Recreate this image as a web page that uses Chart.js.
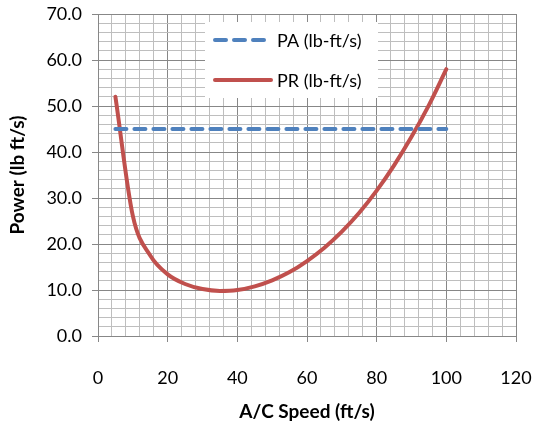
<!DOCTYPE html>
<html>
<head>
<meta charset="utf-8">
<script src="https://cdn.jsdelivr.net/npm/chart.js@4.4.1/dist/chart.umd.min.js"></script>
<style>
html,body{margin:0;padding:0;background:#fff;}
#wrap{width:534px;height:427px;position:relative;}
</style>
</head>
<body>
<div id="wrap"><canvas id="c" width="534" height="427"></canvas></div>
<script>
const speeds = [5,10,15,20,25,30,35,40,45,50,55,60,65,70,75,80,85,90,95,100];
const paValues = [45,45,45,45,45,45,45,45,45,45,45,45,45,45,45,45,45,45,45,45];
const prValues = [52.0,26.1,17.5,13.4,11.3,10.2,9.8,10.0,10.8,12.1,13.9,16.3,19.2,22.7,26.8,31.6,37.1,43.3,50.2,58.0];
const seriesNames = ['PA (lb-ft/s)','PR (lb-ft/s)'];
const xTitle = 'A/C Speed (ft/s)';
const yTitle = 'Power (lb ft/s)';

const FONT = 'Lato, "Open Sans", sans-serif';
const blue = '#4F81BD', red = '#C0504D';
const major = '#878787', minor = '#BEBEBE';

const legendPlugin = {
  id: 'boxLegend',
  afterDraw(chart) {
    const ctx = chart.ctx;
    ctx.save();
    ctx.fillStyle = '#fff';
    ctx.fillRect(205, 22, 173, 76);
    const items = [
      {y: 40, color: blue, dash: [11, 8], x2: 265},
      {y: 80, color: red, dash: [], x2: 271}
    ];
    items.forEach((it, i) => {
      ctx.beginPath();
      ctx.setLineDash(it.dash);
      ctx.lineCap = 'round';
      ctx.lineWidth = 4;
      ctx.strokeStyle = it.color;
      ctx.moveTo(215, it.y);
      ctx.lineTo(it.x2, it.y);
      ctx.stroke();
      ctx.setLineDash([]);
      ctx.fillStyle = '#000';
      ctx.font = '18px ' + FONT;
      ctx.textBaseline = 'middle';
      ctx.textAlign = 'left';
      ctx.fillText(seriesNames[i], 277, it.y + 1);
    });
    ctx.restore();
  }
};

new Chart(document.getElementById('c'), {
  type: 'scatter',
  data: {
    datasets: [
      {
        label: seriesNames[0],
        data: speeds.map((s, i) => ({x: s, y: paValues[i]})),
        showLine: true,
        borderColor: blue,
        borderWidth: 4,
        borderDash: [11, 8],
        borderCapStyle: 'round',
        pointRadius: 0,
        fill: false
      },
      {
        label: seriesNames[1],
        data: speeds.map((s, i) => ({x: s, y: prValues[i]})),
        showLine: true,
        borderColor: red,
        borderWidth: 4,
        borderCapStyle: 'round',
        cubicInterpolationMode: 'monotone',
        pointRadius: 0,
        fill: false
      }
    ]
  },
  options: {
    responsive: false,
    animation: false,
    layout: {padding: {left: 0, right: 18, top: 14, bottom: 0}},
    plugins: {legend: {display: false}, tooltip: {enabled: false}},
    scales: {
      x: {
        type: 'linear',
        min: 0, max: 120,
        afterFit(s) { s.height = 91; s.paddingLeft = 0; s.paddingRight = 0; },
        ticks: {
          stepSize: 4,
          autoSkip: false,
          maxRotation: 0,
          padding: 25,
          color: '#000',
          font: {family: FONT, size: 18},
          callback: v => (v % 20 === 0 ? String(v) : '')
        },
        grid: {
          color: c => (c.tick && c.tick.value % 20 === 0 ? major : minor),
          tickColor: c => (c.tick && c.tick.value % 20 === 0 ? major : 'rgba(0,0,0,0)'),
          tickLength: 6,
          lineWidth: 1
        },
        border: {color: major, width: 1},
        title: {
          display: true,
          text: xTitle,
          color: '#000',
          font: {family: FONT, size: 19, weight: 'bold'},
          padding: {top: 8, bottom: 4}
        }
      },
      y: {
        type: 'linear',
        min: 0, max: 70,
        afterFit(s) { s.width = 98; s.paddingTop = 0; s.paddingBottom = 0; },
        ticks: {
          stepSize: 2,
          autoSkip: false,
          padding: 10,
          color: '#000',
          font: {family: FONT, size: 18},
          callback: v => (v % 10 === 0 ? v.toFixed(1) : '')
        },
        grid: {
          color: c => (c.tick && c.tick.value % 10 === 0 ? major : minor),
          tickColor: c => (c.tick && c.tick.value % 10 === 0 ? major : 'rgba(0,0,0,0)'),
          tickLength: 6,
          lineWidth: 1
        },
        border: {color: major, width: 1},
        title: {
          display: true,
          text: yTitle,
          color: '#000',
          font: {family: FONT, size: 19, weight: 'bold'},
          padding: {top: 6, bottom: 0}
        }
      }
    }
  },
  plugins: [legendPlugin]
});
</script>
</body>
</html>
